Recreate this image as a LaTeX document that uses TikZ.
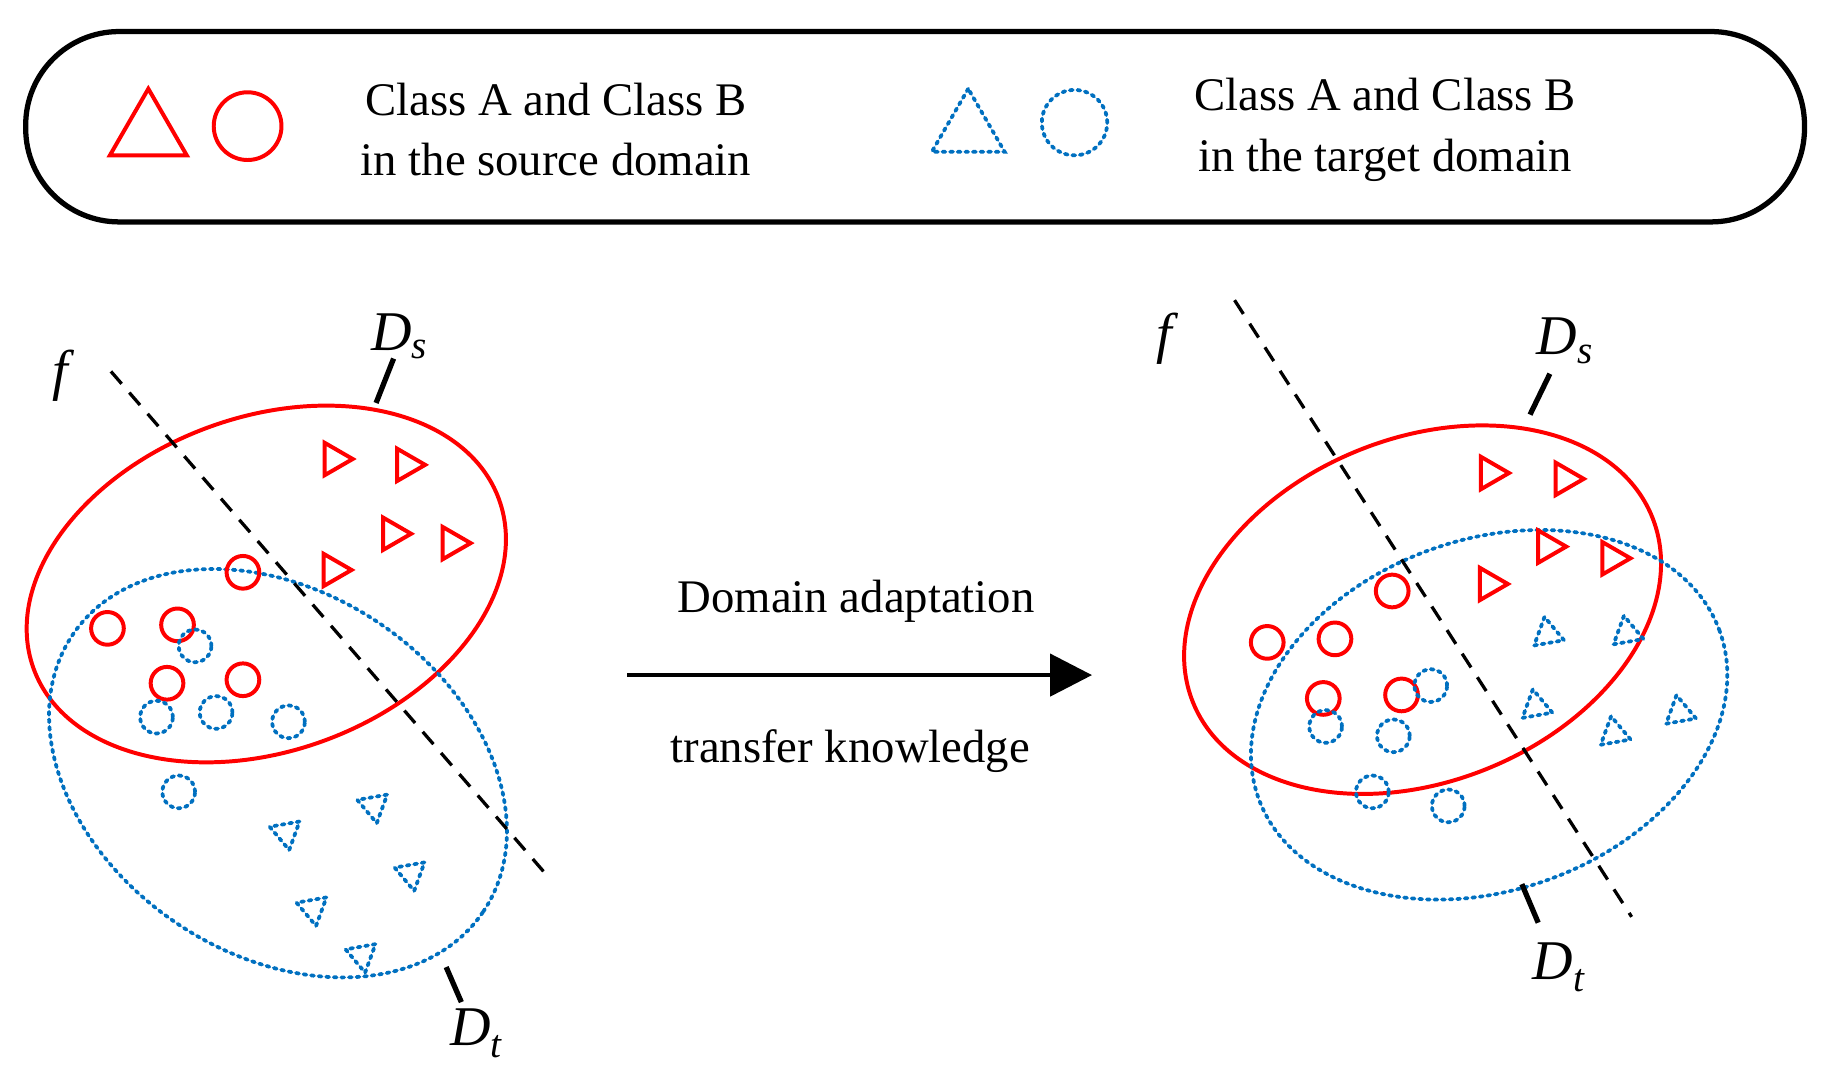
\documentclass[tikz,border=0pt]{standalone}
\usepackage{fontspec}
\setmainfont{Liberation Serif}
\usetikzlibrary{arrows.meta,shapes.geometric}
\definecolor{bl}{RGB}{0,112,192}
\begin{document}
\begin{tikzpicture}[x=1pt,y=-1pt,
  red/.style={draw=red,line width=3.4pt},
  blu/.style={draw=bl,line width=3.2pt,dash pattern=on 2.5pt off 4pt,line cap=round},
  rc/.style={red,circle,minimum size=28pt,inner sep=0pt},
  bc/.style={blu,circle,minimum size=28pt,inner sep=0pt},
  rt/.style={red,regular polygon,regular polygon sides=3,minimum size=32pt,inner sep=0pt,shape border rotate=-90},
  bt/.style={blu,regular polygon,regular polygon sides=3,minimum size=30pt,inner sep=0pt},
  lab/.style={font=\fontsize{40}{52}\selectfont,align=center},
  dl/.style={font=\fontsize{48}{52}\selectfont},
  tick/.style={line width=4.5pt},
  dline/.style={line width=2.8pt,dash pattern=on 14pt off 10pt}]
\useasboundingbox (0,0) rectangle (1560,927);
% legend
\node[draw,line width=4.5pt,rounded corners=80pt,minimum width=1523pt,minimum height=163pt] (legend) at (783.5,108.5) {};
\node[red,regular polygon,regular polygon sides=3,minimum size=76pt,inner sep=0pt] (lt1) at (127,114) {};
\node[rc,minimum size=58pt] (lc1) at (212,108) {};
\node[lab] (lx1) at (476,111) {Class A and Class B\\in the source domain};
\node[blu,regular polygon,regular polygon sides=3,minimum size=72pt,inner sep=0pt] (lt2) at (829,112) {};
\node[bc,minimum size=56pt] (lc2) at (920,105) {};
\node[lab] (lx2) at (1186,111) {Class A and Class B\\in the target domain};
% left panel
\draw[red] (228,500) ellipse[x radius=212pt,y radius=143pt,rotate=20];
\draw[blu] (238,662) ellipse[x radius=212pt,y radius=155pt,rotate=-34];
\coordinate (f1a) at (95,318); \coordinate (f1b) at (467,748);
\draw[dline] (f1a) -- (f1b);
\node[dl,font=\fontsize{48}{52}\selectfont\itshape] (f1) at (52,322) {f};
\coordinate (ds1a) at (322,345); \coordinate (ds1b) at (337,307);
\draw[tick] (ds1a) -- (ds1b);
\node[dl] (ds1) at (342,288) {\textit{D}\textsubscript{\textit{s}}};
\coordinate (dt1a) at (382,828); \coordinate (dt1b) at (395,858);
\draw[tick] (dt1a) -- (dt1b);
\node[dl] (dt1) at (408,885) {\textit{D}\textsubscript{\textit{t}}};
\foreach \p/\n in {{(286,393)}/a,{(348,398)}/b,{(336,457)}/c,{(387,465)}/d,{(285,488)}/e}
  \node[rt] (lrt\n) at \p {};
\foreach \p/\n in {{(208,490)}/a,{(92,538)}/b,{(152,535)}/c,{(143,585)}/d,{(208,582)}/e}
  \node[rc] (lrc\n) at \p {};
\foreach \p/\n in {{(167,553)}/a,{(134,614)}/b,{(185,610)}/c,{(247,618)}/d,{(153,678)}/e}
  \node[bc] (lbc\n) at \p {};
\foreach \p/\n in {{(245,713)}/a,{(320,690)}/b,{(352,748)}/c,{(268,778)}/d,{(310,818)}/e}
  \node[bt,shape border rotate=190] (lbt\n) at \p {};
% arrow
\coordinate (a1) at (537,578); \coordinate (a2) at (935,578);
\draw[line width=4pt,-{Triangle[length=36pt,width=36pt]}] (a1) -- (a2);
\node[lab] (da) at (733,515) {Domain adaptation};
\node[lab] (tk) at (728,643) {transfer knowledge};
% right panel
\draw[red] (1218,522) ellipse[x radius=212pt,y radius=147pt,rotate=22];
\draw[blu] (1275,612) ellipse[x radius=210pt,y radius=150pt,rotate=20];
\coordinate (f2a) at (1057,257); \coordinate (f2b) at (1397,785);
\draw[dline] (f2a) -- (f2b);
\node[dl,font=\fontsize{48}{52}\selectfont\itshape] (f2) at (997,290) {f};
\coordinate (ds2a) at (1310,355); \coordinate (ds2b) at (1327,320);
\draw[tick] (ds2a) -- (ds2b);
\node[dl] (ds2) at (1340,292) {\textit{D}\textsubscript{\textit{s}}};
\coordinate (dt2a) at (1303,757); \coordinate (dt2b) at (1317,790);
\draw[tick] (dt2a) -- (dt2b);
\node[dl] (dt2) at (1335,828) {\textit{D}\textsubscript{\textit{t}}};
\foreach \p/\n in {{(1276,405)}/a,{(1340,410)}/b,{(1325,468)}/c,{(1380,478)}/d,{(1275,500)}/e}
  \node[rt] (rrt\n) at \p {};
\foreach \p/\n in {{(1192,506)}/a,{(1085,550)}/b,{(1143,547)}/c,{(1133,598)}/d,{(1200,595)}/e}
  \node[rc] (rrc\n) at \p {};
\foreach \p/\n in {{(1225,587)}/a,{(1135,622)}/b,{(1193,630)}/c,{(1175,678)}/d,{(1240,690)}/e}
  \node[bc] (rbc\n) at \p {};
\foreach \p/\n in {{(1325,543)}/a,{(1393,542)}/b,{(1315,605)}/c,{(1382,628)}/d,{(1438,610)}/e}
  \node[bt,shape border rotate=10] (rbt\n) at \p {};
\end{tikzpicture}
\end{document}
